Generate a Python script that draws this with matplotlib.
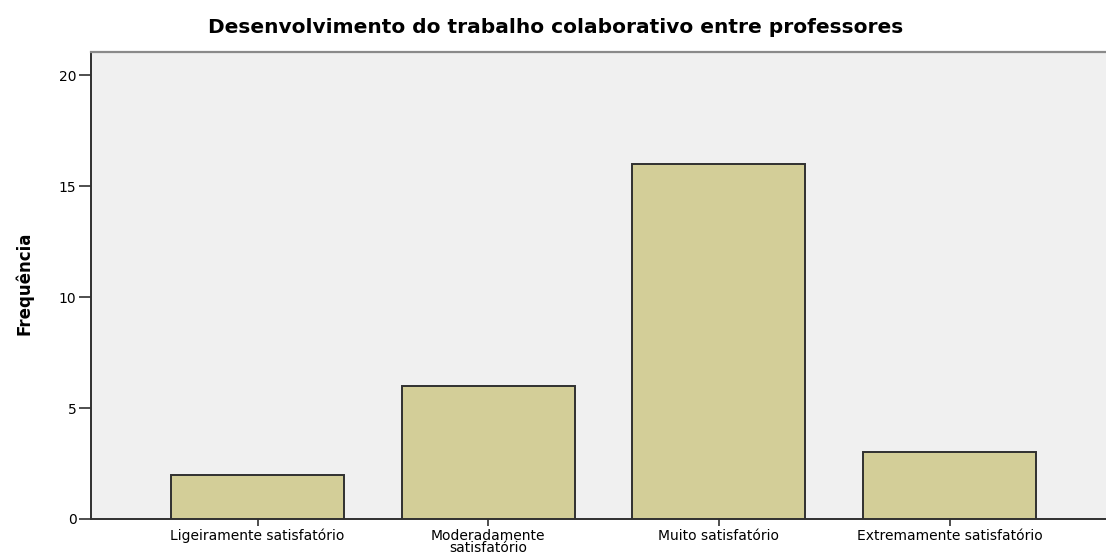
import numpy as np
import matplotlib.pyplot as plt

categorias = ['Ligeiramente satisfatório', 'Moderadamente\nsatisfatório',
              'Muito satisfatório', 'Extremamente satisfatório']
frequencia = [2, 6, 16, 3]
yticks = [0, 5, 10, 15, 20]

fig = plt.figure(figsize=(11.06, 5.57), dpi=100)
ax = fig.add_axes([91/1106, 38/557, 1 - 91/1106, 467/557])
ax.set_facecolor('#f0f0f0')

x = np.arange(len(categorias))
ax.bar(x, frequencia, width=0.75, color='#d3ce98', edgecolor='#303030', linewidth=1.4, zorder=3)

ax.set_xlim(-0.722, 3.678)
ax.set_ylim(0, 21.04)
ax.set_yticks(yticks)
ax.set_xticks(x)
ax.set_xticklabels(categorias, fontsize=10, linespacing=0.8)
ax.tick_params(axis='y', labelsize=10, length=8.5, width=1.2, color='#303030', pad=2)
ax.tick_params(axis='x', length=5, width=1.2, color='#303030', pad=2)

for s in ['left', 'bottom']:
    ax.spines[s].set_color('#303030')
    ax.spines[s].set_linewidth(1.4)
ax.spines['top'].set_color('#8a8a8a')
ax.spines['top'].set_linewidth(1.6)
ax.spines['right'].set_visible(False)

ax.set_ylabel('Frequência', fontsize=12, fontweight='bold')
ax.yaxis.set_label_coords(-0.057, 0.505)
fig.text(0.502, 0.95, 'Desenvolvimento do trabalho colaborativo entre professores',
         ha='center', va='center', fontsize=14.5, fontweight='bold')

fig.savefig('out.png', dpi=100)
